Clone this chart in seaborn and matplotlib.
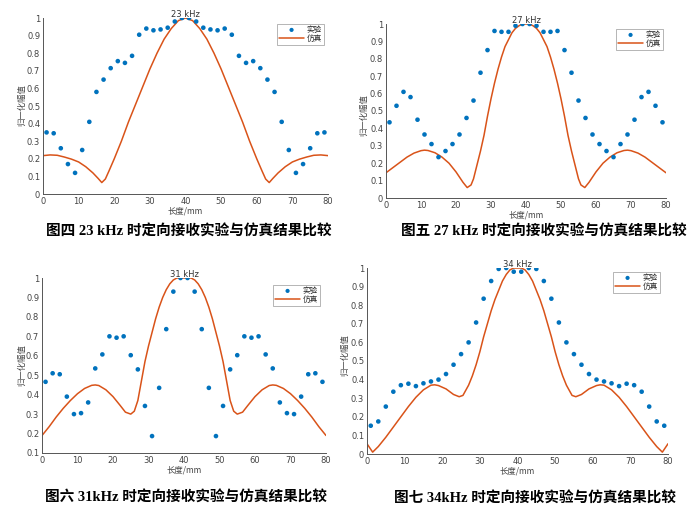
import matplotlib
matplotlib.use("Agg")
import matplotlib.pyplot as plt
import seaborn as sns

sns.set_style("white")
plt.rcParams['font.family'] = ['DejaVu Sans', 'Noto Sans CJK SC']
plt.rcParams['axes.unicode_minus'] = False

# ---------------- data ----------------
exp_x = [1, 3, 5, 7, 9, 11, 13, 15, 17, 19, 21, 23, 25, 27, 29, 31, 33, 35, 37, 39,
         41, 43, 45, 47, 49, 51, 53, 55, 57, 59, 61, 63, 65, 67, 69, 71, 73, 75, 77, 79]

exp_23 = [0.35, 0.345, 0.26, 0.17, 0.12, 0.25, 0.41, 0.58, 0.65, 0.715, 0.755, 0.745, 0.785,
          0.905, 0.94, 0.93, 0.935, 0.945, 0.98, 1.0, 1.0, 0.98, 0.945, 0.935, 0.93, 0.94,
          0.905, 0.785, 0.745, 0.755, 0.715, 0.65, 0.58, 0.41, 0.25, 0.12, 0.17, 0.26, 0.345, 0.35]
sim_23_x = [0, 2, 4, 6, 8, 10, 12, 14, 15.5, 16.5, 17.5, 18.5, 20, 22, 24, 26, 28, 30, 32, 34,
            36, 38, 40, 42, 44, 46, 48, 50, 52, 54, 56, 58, 60, 61.5, 62.5, 63.5, 64.5, 66, 68,
            70, 72, 74, 76, 78, 80]
sim_23_y = [0.218, 0.222, 0.22, 0.21, 0.198, 0.182, 0.155, 0.12, 0.088, 0.065, 0.085, 0.13, 0.2,
            0.3, 0.41, 0.51, 0.61, 0.71, 0.8, 0.88, 0.94, 0.985, 1.0, 0.985, 0.94, 0.88, 0.8,
            0.71, 0.61, 0.51, 0.41, 0.3, 0.2, 0.13, 0.085, 0.065, 0.088, 0.12, 0.155, 0.182,
            0.198, 0.21, 0.22, 0.222, 0.218]

exp_27 = [0.435, 0.53, 0.61, 0.58, 0.45, 0.365, 0.31, 0.235, 0.27, 0.31, 0.365, 0.46, 0.56,
          0.72, 0.85, 0.96, 0.955, 0.955, 0.99, 1.0, 1.0, 0.99, 0.955, 0.955, 0.96, 0.85, 0.72,
          0.56, 0.46, 0.365, 0.31, 0.27, 0.235, 0.31, 0.365, 0.45, 0.58, 0.61, 0.53, 0.435]
sim_27_x = [0, 2, 4, 6, 8, 10, 11, 12, 14, 16, 18, 20, 22, 23.2, 24.3, 25, 26, 27, 28, 29, 30,
            31, 32, 33, 34, 35, 36, 37, 38, 39, 40, 41, 42, 43, 44, 45, 46, 47, 48, 49, 50, 51,
            52, 53, 54, 55, 55.7, 56.8, 58, 60, 62, 64, 66, 68, 69, 70, 72, 74, 76, 78, 80]
sim_27_y = [0.145, 0.175, 0.205, 0.235, 0.258, 0.272, 0.275, 0.273, 0.26, 0.235, 0.2, 0.15,
            0.09, 0.06, 0.075, 0.11, 0.19, 0.27, 0.36, 0.47, 0.57, 0.66, 0.74, 0.81, 0.87, 0.91,
            0.95, 0.975, 0.99, 1.0, 1.0, 1.0, 0.99, 0.975, 0.95, 0.91, 0.87, 0.81, 0.74, 0.66,
            0.57, 0.47, 0.36, 0.27, 0.19, 0.11, 0.075, 0.06, 0.09, 0.15, 0.2, 0.235, 0.26,
            0.273, 0.275, 0.272, 0.258, 0.235, 0.205, 0.175, 0.145]

exp_31 = [0.466, 0.51, 0.505, 0.39, 0.30, 0.305, 0.36, 0.535, 0.607, 0.70, 0.693, 0.70, 0.603,
          0.53, 0.342, 0.187, 0.435, 0.737, 0.93, 1.0, 1.0, 0.93, 0.737, 0.435, 0.187, 0.342,
          0.53, 0.603, 0.70, 0.693, 0.70, 0.607, 0.535, 0.36, 0.305, 0.30, 0.39, 0.505, 0.51, 0.466]
sim_31_x = [0, 2, 4, 6, 8, 10, 12, 14, 15, 16, 18, 20, 22, 23.5, 25, 26, 27, 28, 29, 30, 31, 32,
            33, 34, 35, 36, 37, 38, 40, 42, 43, 44, 45, 46, 47, 48, 49, 50, 51, 52, 53, 54, 55,
            56.5, 58, 60, 62, 64, 65, 66, 68, 70, 72, 74, 76, 78, 80]
sim_31_y = [0.19, 0.235, 0.285, 0.33, 0.37, 0.405, 0.432, 0.448, 0.45, 0.447, 0.425, 0.39,
            0.345, 0.31, 0.3, 0.315, 0.37, 0.47, 0.57, 0.65, 0.72, 0.79, 0.85, 0.9, 0.94, 0.97,
            0.99, 1.0, 1.0, 1.0, 0.99, 0.97, 0.94, 0.9, 0.85, 0.79, 0.72, 0.65, 0.57, 0.47, 0.37,
            0.315, 0.3, 0.31, 0.345, 0.39, 0.425, 0.447, 0.45, 0.448, 0.432, 0.405, 0.37, 0.33,
            0.285, 0.235, 0.19]

exp_34 = [0.152, 0.175, 0.255, 0.335, 0.37, 0.378, 0.365, 0.38, 0.39, 0.40, 0.43, 0.48, 0.537,
          0.60, 0.707, 0.835, 0.93, 0.995, 1.0, 0.98, 0.98, 1.0, 0.995, 0.93, 0.835, 0.707, 0.60,
          0.537, 0.48, 0.43, 0.40, 0.39, 0.38, 0.365, 0.378, 0.37, 0.335, 0.255, 0.175, 0.152]
sim_34_x = [0, 1.5, 3, 5, 7, 9, 11, 13, 15, 17, 18, 19, 21, 23, 24.5, 25.5, 27, 28, 29, 30, 31,
            32, 33, 34, 35, 36, 37, 38, 39, 41, 42, 43, 44, 45, 46, 47, 48, 49, 50, 51, 52, 53,
            54.5, 55.5, 57, 59, 61, 62, 63, 65, 67, 69, 71, 73, 75, 77, 78.5, 80]
sim_34_y = [0.055, 0.01, 0.04, 0.09, 0.145, 0.2, 0.255, 0.305, 0.345, 0.37, 0.372, 0.368, 0.35,
            0.32, 0.308, 0.315, 0.37, 0.42, 0.48, 0.55, 0.63, 0.7, 0.77, 0.83, 0.88, 0.93, 0.965,
            0.99, 1.0, 1.0, 0.99, 0.965, 0.93, 0.88, 0.83, 0.77, 0.7, 0.63, 0.55, 0.48, 0.42,
            0.37, 0.315, 0.308, 0.32, 0.35, 0.368, 0.372, 0.37, 0.345, 0.305, 0.255, 0.2, 0.145,
            0.09, 0.04, 0.01, 0.055]

titles = ["23 kHz", "27 kHz", "31 kHz", "34 kHz"]
captions = ["图四 23 kHz 时定向接收实验与仿真结果比较",
            "图五 27 kHz 时定向接收实验与仿真结果比较",
            "图六 31kHz 时定向接收实验与仿真结果比较",
            "图七 34kHz 时定向接收实验与仿真结果比较"]
x_ticks = [0, 10, 20, 30, 40, 50, 60, 70, 80]
y_ticks_full = [0, 0.1, 0.2, 0.3, 0.4, 0.5, 0.6, 0.7, 0.8, 0.9, 1]
y_ticks_31 = [0.1, 0.2, 0.3, 0.4, 0.5, 0.6, 0.7, 0.8, 0.9, 1]
xlabel = "长度/mm"
ylabel = "归一化幅值"
legend_labels = ["实验", "仿真"]

# ---------------- layout (pixels) ----------------
W, H = 694, 520
BLUE = "#0072BD"
ORANGE = "#D95319"
AX_COL = "#555555"
CJK = ['Noto Sans CJK SC', 'DejaVu Sans']

fig = plt.figure(figsize=(W / 100, H / 100), dpi=100)
fig.patch.set_facecolor("white")

panels = [
    dict(box=(43, 328, 18, 194), ex=exp_23, sx=sim_23_x, sy=sim_23_y, yt=y_ticks_full,
         ylim=(0, 1), leg=(324, 24), cap=(189, 231), yl=(22, 105)),
    dict(box=(386, 666, 24, 198), ex=exp_27, sx=sim_27_x, sy=sim_27_y, yt=y_ticks_full,
         ylim=(0, 1), leg=(663, 29), cap=(544, 231), yl=(364, 115)),
    dict(box=(42, 326, 278, 453), ex=exp_31, sx=sim_31_x, sy=sim_31_y, yt=y_ticks_31,
         ylim=(0.1, 1), leg=(320, 285), cap=(186, 497), yl=(22, 365)),
    dict(box=(367, 668, 268, 454), ex=exp_34, sx=sim_34_x, sy=sim_34_y, yt=y_ticks_full,
         ylim=(0, 1), leg=(660, 272), cap=(535, 498), yl=(345, 355)),
]

for i, p in enumerate(panels):
    l, r, t, b = p["box"]
    ax = fig.add_axes([l / W, 1 - b / H, (r - l) / W, (b - t) / H])
    ax.set_facecolor("white")
    sns.scatterplot(x=exp_x, y=p["ex"], ax=ax, color=BLUE, s=11, edgecolor="none",
                    label=legend_labels[0], zorder=3)
    sns.lineplot(x=p["sx"], y=p["sy"], ax=ax, color=ORANGE, linewidth=1.1,
                 label=legend_labels[1], zorder=2)
    ax.set_xlim(0, 80)
    ax.set_ylim(*p["ylim"])
    ax.set_xticks(x_ticks)
    ax.set_xticklabels([str(v) for v in x_ticks])
    ax.set_yticks(p["yt"])
    ax.set_yticklabels([("%g" % v) for v in p["yt"]])
    for s in ["top", "right"]:
        ax.spines[s].set_visible(False)
    for s in ["left", "bottom"]:
        ax.spines[s].set_color(AX_COL)
        ax.spines[s].set_linewidth(0.7)
    ax.tick_params(direction="in", length=2.5, width=0.6, colors=AX_COL,
                   labelsize=6, pad=2, labelcolor="#444444")
    ax.set_xlabel("")
    ax.set_ylabel("")
    fig.text(((l + r) / 2) / W, 1 - (b + 17) / H, xlabel, ha="center", va="center",
             fontsize=6, color="#444444", family=CJK)
    fig.text(p["yl"][0] / W, 1 - p["yl"][1] / H, ylabel, ha="center", va="center",
             rotation=90, fontsize=6, color="#444444", family=CJK)
    ax.text(0.5, 0.995, titles[i], transform=ax.transAxes, ha="center", va="bottom",
            fontsize=6, color="#333333")
    leg = ax.legend(loc="upper right", bbox_to_anchor=(p["leg"][0] / W, 1 - p["leg"][1] / H),
                    bbox_transform=fig.transFigure, frameon=True, fancybox=False,
                    edgecolor="#999999", framealpha=1, borderpad=0.25, labelspacing=0.1,
                    handlelength=3.2, handletextpad=0.4, borderaxespad=0,
                    prop={"family": CJK, "size": 5.5}, markerscale=0.9)
    leg.get_frame().set_linewidth(0.5)
    fig.text(p["cap"][0] / W, 1 - p["cap"][1] / H, captions[i], ha="center", va="center",
             fontsize=10.5, fontweight="bold", color="black",
             family=['Liberation Serif', 'Noto Sans CJK SC'])

fig.savefig("out.png", dpi=100, facecolor="white")
